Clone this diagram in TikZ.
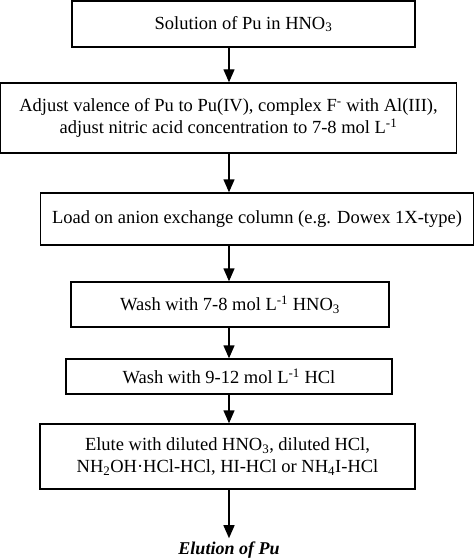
\documentclass[tikz,border=0pt]{standalone}
\usepackage{fontspec}
\setmainfont{Liberation Serif}
\usetikzlibrary{arrows.meta,positioning}
\tikzset{
  stepbox/.style={draw, line width=1.4pt, rectangle, align=center, inner sep=2pt, font=\fontsize{18.5}{22}\selectfont},
  arr/.style={-{Triangle[length=13pt,width=11pt]}, line width=1.4pt},
  endn/.style={font=\fontsize{18}{22}\selectfont\bfseries\itshape},
}
\begin{document}
\begin{tikzpicture}[x=1pt,y=-1pt]
\useasboundingbox (0,0) rectangle (474,559);
\node[stepbox, minimum width=343pt, minimum height=46pt] (b1) at (243.5,24) {Solution of Pu in HNO\textsubscript{3}};
\node[stepbox, minimum width=456pt, minimum height=70pt] (b2) at (228.5,118) {Adjust valence of Pu to Pu(IV), complex F\textsuperscript{-} with Al(III),\\adjust nitric acid concentration to 7-8 mol L\textsuperscript{-1}};
\node[stepbox, minimum width=433pt, minimum height=52pt] (b3) at (257,219) {Load on anion exchange column (e.g. Dowex 1X-type)};
\node[stepbox, minimum width=318pt, minimum height=45pt] (b4) at (230,304.5) {Wash with 7-8 mol L\textsuperscript{-1} HNO\textsubscript{3}};
\node[stepbox, minimum width=326pt, minimum height=35pt] (b5) at (229,376.5) {Wash with 9-12 mol L\textsuperscript{-1} HCl};
\node[stepbox, minimum width=375pt, minimum height=65pt] (b6) at (227.5,456.5) {Elute with diluted HNO\textsubscript{3}, diluted HCl,\\NH\textsubscript{2}OH·HCl-HCl, HI-HCl or NH\textsubscript{4}I-HCl};
\node[endn] (pu) at (229,550) {Elution of Pu};
\coordinate (ax) at (229,0);
\draw[arr] (b1.south -| ax) -- (b2.north -| ax);
\draw[arr] (b2.south -| ax) -- (b3.north -| ax);
\draw[arr] (b3.south -| ax) -- (b4.north -| ax);
\draw[arr] (b4.south -| ax) -- (b5.north -| ax);
\draw[arr] (b5.south -| ax) -- (b6.north -| ax);
\draw[arr] (b6.south -| ax) -- (pu.north -| ax);
\end{tikzpicture}
\end{document}
